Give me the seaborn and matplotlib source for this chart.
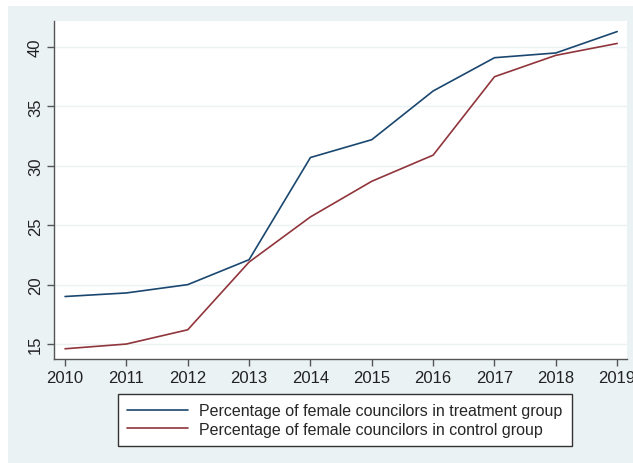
import pandas as pd
import matplotlib.pyplot as plt
import matplotlib.patches as mpatches
import seaborn as sns

# datos
years = [2010, 2011, 2012, 2013, 2014, 2015, 2016, 2017, 2018, 2019]
treatment = [19.0, 19.3, 20.0, 22.1, 30.7, 32.2, 36.3, 39.1, 39.5, 41.3]
control = [14.6, 15.0, 16.2, 21.9, 25.7, 28.7, 30.9, 37.5, 39.3, 40.3]
labels = ['Percentage of female councilors in treatment group',
          'Percentage of female councilors in control group']

df = pd.DataFrame({
    'year': years * 2,
    'value': treatment + control,
    'group': [labels[0]] * len(years) + [labels[1]] * len(control),
})

sns.set_style('white')
plt.rcParams['font.family'] = ['Liberation Sans', 'DejaVu Sans']

fig = plt.figure(figsize=(6.33, 4.64), dpi=100, facecolor='white')
# fondo gris-azulado estilo Stata
fig.patches.append(mpatches.Rectangle((8 / 633, 0), 1, 1 - 7 / 464, transform=fig.transFigure,
                                      facecolor='#eaf2f3', edgecolor='none', zorder=-10))
ax = fig.add_axes([54 / 633, 1 - 360 / 464, (627 - 54) / 633, (360 - 22) / 464])
ax.set_facecolor('white')

sns.lineplot(data=df, x='year', y='value', hue='group', palette=['#1a476f', '#90353b'],
             linewidth=1.2, ax=ax, legend=False)

ax.set_xlim(2009.82, 2019.16)
ax.set_ylim(13.74, 42.19)
ax.set_xticks(years)
ax.set_yticks([15, 20, 25, 30, 35, 40])
ax.grid(axis='y', color='#eaf2f3', linewidth=1)
ax.set_xlabel('')
ax.set_ylabel('')
for s in ['top', 'right']:
    ax.spines[s].set_visible(False)
for s in ['left', 'bottom']:
    ax.spines[s].set_color('#555555')
    ax.spines[s].set_linewidth(1)
ax.tick_params(axis='both', direction='out', length=5, width=1, color='#555555',
               labelsize=12, labelcolor='#222222', bottom=True, left=True, pad=3)
plt.setp(ax.get_yticklabels(), rotation=90, va='center')

handles = [plt.Line2D([], [], color='#1a476f', lw=1.2), plt.Line2D([], [], color='#90353b', lw=1.2)]
leg = fig.legend(handles, labels, loc='center', bbox_to_anchor=(345 / 633, 1 - 421 / 464),
                 fontsize=11.5, handlelength=3.8, handletextpad=0.7, frameon=True, fancybox=False,
                 edgecolor='#333333', framealpha=1, borderpad=0.6, labelspacing=0.2)
leg.get_frame().set_linewidth(1)

plt.savefig('out.png', dpi=100, facecolor=fig.get_facecolor())
